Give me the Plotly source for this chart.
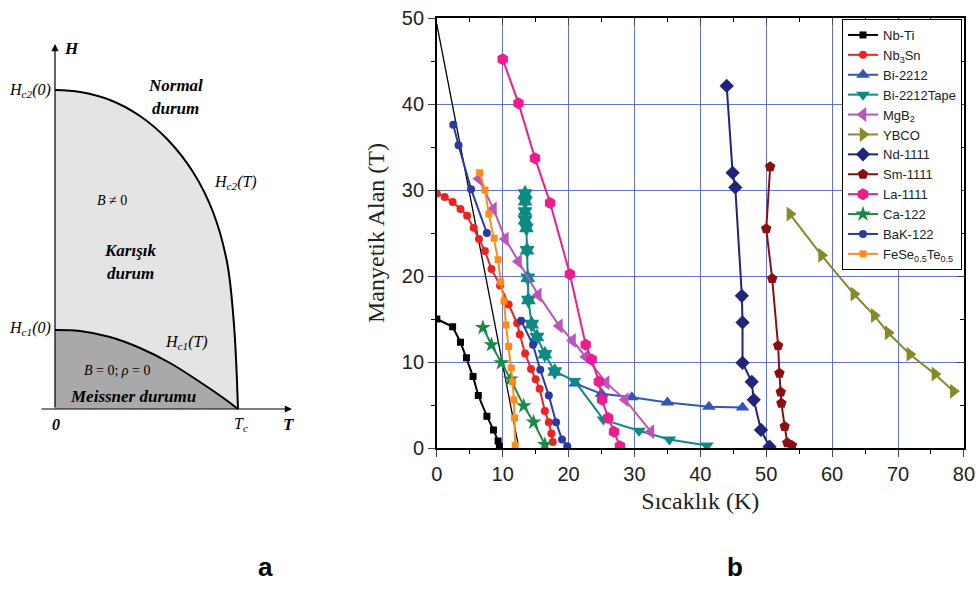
import plotly.graph_objects as go

# ---------------- Panel b data (T in K, H in Tesla) ----------------
nbti_T = [0, 2.4, 3.6, 4.5, 5.5, 6.3, 7.6, 8.6, 9.3, 9.5]
nbti_H = [15.0, 14.1, 12.3, 10.5, 8.3, 6.1, 3.7, 2.1, 0.8, 0.2]

line_T = [0, 12.3]
line_H = [49.3, 0.6]

nb3sn_T = [0, 1.2, 2.4, 3.6, 4.6, 5.6, 6.4, 7.3, 8.3, 9.6, 10.9, 12.2, 12.6, 13.4, 14.3, 15.0, 15.6, 16.4, 17.0, 17.4, 17.6]
nb3sn_H = [29.6, 29.2, 28.6, 27.8, 27.0, 25.6, 24.3, 22.9, 20.8, 18.9, 16.7, 14.5, 13.2, 11.0, 9.2, 8.0, 6.9, 4.3, 3.0, 1.7, 0.7]

bi2212_T = [21.0, 25.0, 29.6, 35.0, 41.3, 46.4]
bi2212_H = [7.5, 6.3, 5.9, 5.3, 4.8, 4.7]

tape_T = [13.4, 13.4, 13.4, 13.4, 13.6, 13.7, 13.8, 13.9, 14.4, 15.2, 16.4, 17.9, 20.9, 25.3, 30.7, 35.3, 41.0]
tape_H = [29.6, 28.7, 27.5, 26.5, 25.6, 23.0, 19.8, 17.2, 14.4, 12.9, 10.9, 8.9, 7.8, 3.3, 2.0, 1.0, 0.3]
tape_star_n = 12

mgb2_T = [6.4, 8.6, 10.4, 12.4, 15.4, 18.6, 20.6, 22.6, 25.7, 28.6, 32.5]
mgb2_H = [31.3, 27.8, 24.3, 21.7, 17.8, 14.2, 12.5, 10.6, 7.6, 5.6, 1.9]

ybco_T = [53.6, 58.4, 63.3, 66.4, 68.5, 71.8, 75.6, 78.4]
ybco_H = [27.2, 22.4, 17.9, 15.4, 13.4, 10.9, 8.6, 6.6]

nd_T = [44.0, 44.9, 45.3, 46.3, 46.4, 46.4, 47.8, 48.1, 49.2, 50.5]
nd_H = [42.1, 32.0, 30.3, 17.7, 14.6, 9.9, 7.7, 5.6, 2.1, 0.15]

sm_T = [50.6, 50.0, 50.9, 51.8, 52.0, 52.2, 52.3, 52.8, 53.2, 53.9]
sm_H = [32.7, 25.5, 19.7, 11.9, 8.7, 6.5, 5.2, 2.5, 0.6, 0.3]

la_T = [10.0, 12.4, 14.9, 17.2, 20.2, 22.6, 23.5, 24.6, 25.1, 26.0, 26.9, 27.8]
la_H = [45.2, 40.1, 33.7, 28.5, 20.2, 12.0, 10.3, 7.7, 5.6, 3.5, 1.9, 0.2]

ca_T = [7.0, 8.3, 9.8, 11.2, 13.2, 14.7, 16.4]
ca_H = [14.0, 12.0, 9.9, 8.0, 4.9, 3.0, 0.4]

bak_T = [2.5, 3.3, 5.2, 7.6, None, 12.8, 14.6, 15.7, 17.0, 18.1, 19.0, 19.8]
bak_H = [37.6, 35.2, 30.1, 25.0, None, 14.8, 12.0, 9.1, 6.1, 3.0, 1.0, 0.2]

fese_T = [6.5, 7.3, 7.9, 8.7, 9.3, 9.7, 10.2, 10.5, 10.9, 11.3, 11.5, 11.7, 11.8, 11.9]
fese_H = [32.0, 30.0, 27.2, 24.4, 21.9, 19.3, 17.1, 14.3, 11.8, 9.3, 7.7, 5.6, 3.5, 0.3]

x_ticks = [0, 10, 20, 30, 40, 50, 60, 70, 80]
y_ticks = [0, 10, 20, 30, 40, 50]

# ---------------- Panel a schematic (pixel coordinates) ----------------
hc2_x = [55, 80, 110, 140, 168, 193, 213, 227, 234, 238]
hc2_y = [90, 92, 100, 116, 140, 172, 212, 262, 325, 409]
hc1_x = [55, 80, 110, 140, 170, 200, 222, 238]
hc1_y = [330, 331, 337, 348, 363, 382, 397, 409]
base_x = [55, 238]
base_y = [409, 409]

fig = go.Figure()

# Panel a fills (fill between the T axis and each critical-field curve)
def base():
    fig.add_trace(go.Scatter(x=base_x, y=base_y, mode="lines", line=dict(width=0),
                             xaxis="x2", yaxis="y2", showlegend=False, hoverinfo="skip"))

base()
fig.add_trace(go.Scatter(x=hc2_x, y=hc2_y, fill="tonexty", fillcolor="#e4e4e4", mode="lines",
                         line=dict(width=0, shape="spline"), xaxis="x2", yaxis="y2",
                         showlegend=False, hoverinfo="skip"))
base()
fig.add_trace(go.Scatter(x=hc1_x, y=hc1_y, fill="tonexty", fillcolor="#a9a9a9", mode="lines",
                         line=dict(width=0, shape="spline"), xaxis="x2", yaxis="y2",
                         showlegend=False, hoverinfo="skip"))
fig.add_trace(go.Scatter(x=hc2_x, y=hc2_y, mode="lines", line=dict(color="black", width=2, shape="spline"),
                         xaxis="x2", yaxis="y2", showlegend=False, hoverinfo="skip"))
fig.add_trace(go.Scatter(x=hc1_x, y=hc1_y, mode="lines", line=dict(color="black", width=2, shape="spline"),
                         xaxis="x2", yaxis="y2", showlegend=False, hoverinfo="skip"))

# Panel b traces
def add(name, xs, ys, color, symbol, size, lw=2):
    fig.add_trace(go.Scatter(x=xs, y=ys, name=name, mode="lines+markers",
                             line=dict(color=color, width=lw),
                             marker=dict(color=color, symbol=symbol, size=size, line=dict(width=0)),
                             connectgaps=False))

fig.add_trace(go.Scatter(x=line_T, y=line_H, mode="lines", line=dict(color="black", width=1.3),
                         showlegend=False, hoverinfo="skip"))
add("Nb-Ti", nbti_T, nbti_H, "#000000", "square", 7)
add("Nb<sub>3</sub>Sn", nb3sn_T, nb3sn_H, "#ee2222", "circle", 8)
add("Bi-2212", bi2212_T, bi2212_H, "#3355bb", "triangle-up", 12)
add("Bi-2212Tape", tape_T, tape_H, "#0e8a84", "triangle-down", 12)
fig.add_trace(go.Scatter(x=tape_T[:tape_star_n], y=tape_H[:tape_star_n], mode="markers",
                         marker=dict(color="#0e8a84", symbol="hexagram", size=13, line=dict(width=0)),
                         showlegend=False))
add("MgB<sub>2</sub>", mgb2_T, mgb2_H, "#bb55bb", "triangle-left", 13)
add("YBCO", ybco_T, ybco_H, "#858a25", "triangle-right", 13)
add("Nd-1111", nd_T, nd_H, "#22237a", "diamond", 11)
add("Sm-1111", sm_T, sm_H, "#8b0f12", "pentagon", 11)
add("La-1111", la_T, la_H, "#ee1c8c", "hexagon", 12)
add("Ca-122", ca_T, ca_H, "#1a8a4a", "star", 12)
add("BaK-122", bak_T, bak_H, "#2b3aa0", "circle", 8)
add("FeSe<sub>0.5</sub>Te<sub>0.5</sub>", fese_T, fese_H, "#ff8c1a", "square", 7)

# dummy trace to realise mirrored inside-tick axes
fig.add_trace(go.Scatter(x=[], y=[], xaxis="x3", yaxis="y3", showlegend=False))

XD = [436.8 / 979, 963.9 / 979]
YD = [1 - 448 / 602, 1 - 18 / 602]
tickfont = dict(family="Liberation Sans, Arial", size=20, color="#222")
serif = "Liberation Serif, Times New Roman"

fig.update_layout(
    width=979, height=602, margin=dict(l=0, r=0, t=0, b=0, pad=0), autosize=False,
    plot_bgcolor="white", paper_bgcolor="white",
    xaxis=dict(domain=XD, range=[0, 80], tickvals=x_ticks, ticks="outside", ticklen=7, tickwidth=1.2,
               showline=True, linecolor="black", linewidth=1.5, showgrid=True, automargin=False,
               gridcolor="rgba(70,90,200,0.85)", gridwidth=1, zeroline=False, tickfont=tickfont,
               minor=dict(dtick=5, ticks="outside", ticklen=4, tickcolor="black", showgrid=False),
               title=dict(text="Sıcaklık (K)", font=dict(family=serif, size=24, color="#222"), standoff=8),
               anchor="y"),
    yaxis=dict(domain=YD, range=[0, 50], tickvals=y_ticks, ticks="outside", ticklen=7, tickwidth=1.2,
               showline=True, linecolor="black", linewidth=1.5, showgrid=True, automargin=False,
               gridcolor="rgba(70,90,200,0.85)", gridwidth=1, zeroline=False, tickfont=tickfont,
               minor=dict(dtick=5, ticks="outside", ticklen=4, tickcolor="black", showgrid=False),
               title=dict(text="Manyetik Alan (T)", font=dict(family=serif, size=24, color="#222"), standoff=10),
               anchor="x"),
    xaxis3=dict(overlaying="x", side="top", anchor="y3", range=[0, 80], tickvals=x_ticks, ticks="inside",
                ticklen=7, showticklabels=False, showgrid=False, zeroline=False, showline=True,
                linecolor="black", linewidth=1.5, automargin=False,
                minor=dict(dtick=5, ticks="inside", ticklen=4, tickcolor="black", showgrid=False)),
    yaxis3=dict(overlaying="y", side="right", anchor="x3", range=[0, 50], tickvals=y_ticks, ticks="inside",
                ticklen=7, showticklabels=False, showgrid=False, zeroline=False, showline=True,
                linecolor="black", linewidth=1.5, automargin=False,
                minor=dict(dtick=5, ticks="inside", ticklen=4, tickcolor="black", showgrid=False)),
    xaxis2=dict(domain=[0, 300 / 979], range=[0, 300], visible=False, anchor="y2", automargin=False),
    yaxis2=dict(domain=[0, 1], range=[602, 0], visible=False, anchor="x2", automargin=False),
    legend=dict(x=962 / 979, y=1 - 19 / 602, xanchor="right", yanchor="top", traceorder="normal",
                bgcolor="white", bordercolor="black", borderwidth=1,
                font=dict(family="Liberation Sans, Arial", size=13, color="#222"),
                tracegroupgap=0, itemwidth=30),
    showlegend=True,
)

# Panel a axes arrows
fig.add_annotation(x=55, y=44, ax=55, ay=409, xref="x2", yref="y2", axref="x2", ayref="y2",
                   showarrow=True, arrowhead=2, arrowsize=1.2, arrowwidth=1.2, arrowcolor="black", text="")
fig.add_annotation(x=292, y=409, ax=40, ay=409, xref="x2", yref="y2", axref="x2", ayref="y2",
                   showarrow=True, arrowhead=2, arrowsize=1.2, arrowwidth=1.2, arrowcolor="black", text="")

def lab(x, y, text, size=16, xanchor="center"):
    fig.add_annotation(x=x, y=y, xref="x2", yref="y2", text=text, showarrow=False, xanchor=xanchor,
                       yanchor="middle", font=dict(family=serif, size=size, color="black"))

lab(62, 48, "<b><i>H</i></b>", 17, "left")
lab(53, 90, "<i>H</i><sub><i>c2</i></sub><i>(0)</i>", 16, "right")
lab(53, 328, "<i>H</i><sub><i>c1</i></sub><i>(0)</i>", 16, "right")
lab(175, 85, "<b><i>Normal</i></b>", 17)
lab(175, 108, "<b><i>durum</i></b>", 17)
lab(212, 182, "<i>H</i><sub><i>c2</i></sub><i>(T)</i>", 16, "left")
lab(112, 200, "<i>B</i> ≠ 0", 14)
lab(130, 250, "<b><i>Karışık</i></b>", 17)
lab(130, 273, "<b><i>durum</i></b>", 17)
lab(163, 342, "<i>H</i><sub><i>c1</i></sub><i>(T)</i>", 16, "left")
lab(117, 370, "<i>B</i> = 0; <i>ρ</i> = 0", 14)
lab(133, 396, "<b><i>Meissner durumu</i></b>", 17)
lab(56, 424, "<b><i>0</i></b>", 16)
lab(241, 424, "<i>T</i><sub><i>c</i></sub>", 16)
lab(288, 424, "<b><i>T</i></b>", 17)

fig.add_annotation(x=265 / 979, y=1 - 567 / 602, xref="paper", yref="paper", text="<b>a</b>", showarrow=False,
                   xanchor="center", yanchor="middle",
                   font=dict(family="Liberation Sans, Arial", size=26, color="black"))
fig.add_annotation(x=735 / 979, y=1 - 567 / 602, xref="paper", yref="paper", text="<b>b</b>", showarrow=False,
                   xanchor="center", yanchor="middle",
                   font=dict(family="Liberation Sans, Arial", size=26, color="black"))

fig.write_html("out.html")
